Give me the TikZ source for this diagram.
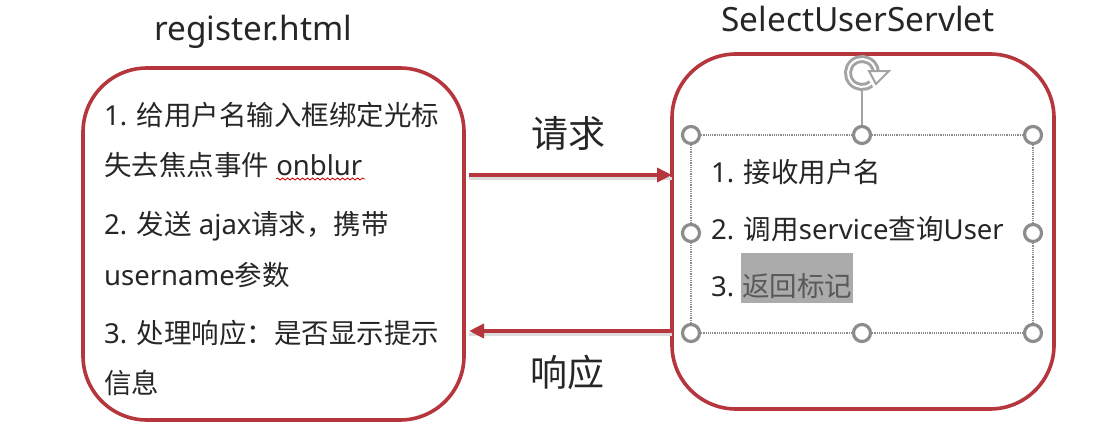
\documentclass[tikz,border=0pt]{standalone}
\usepackage{fontspec}
\setmainfont{Noto Sans}
\newfontfamily\zh{Noto Sans CJK SC}
\definecolor{box-red}{HTML}{B5373D}
\definecolor{handle-gray}{HTML}{8C8C8C}
\definecolor{text-dark}{HTML}{262626}
\usetikzlibrary{arrows.meta, decorations.pathmorphing}
\tikzset{
  servebox/.style={
    draw=box-red, fill=white, line width=3.6pt, rounded corners=64pt
  },
  item/.style={
    anchor=base west, inner sep=0pt, text=text-dark,
    font=\fontsize{27.5}{27.5}\selectfont
  },
  title/.style={
    anchor=base, inner sep=0pt, text=text-dark,
    font=\fontsize{33.4}{33.4}\selectfont
  },
  label/.style={
    anchor=base, inner sep=0pt, text=text-dark,
    font=\fontsize{37}{37}\selectfont\zh
  },
  connection/.style={
    draw=box-red, -{Triangle[length=15pt,width=14pt]}, line width=4pt
  },
  connshadow/.style={
    draw=black!14, line width=3pt
  },
  handle/.style={
    circle, draw=handle-gray, fill=white, line width=3.2pt,
    inner sep=0pt, minimum size=17pt
  },
  selframe/.style={
    draw=handle-gray, line width=1.2pt, densely dotted
  }
}

\begin{document}
\begin{tikzpicture}[x=1pt, y=-1pt]
        \useasboundingbox (0,0) rectangle (1102,444);

        % boxes
        \draw[servebox] (83,68) rectangle (464,420);
        \draw[servebox] (672,54) rectangle (1054,409);
        \coordinate (reqstart) at (469,175);
        \coordinate (reqend) at (672,175);
        \coordinate (respstart) at (672,331);
        \coordinate (respend) at (469,331);

        % titles
        \node[title] (page) at (253,41) {register.html};
        \node[title] (servlet) at (858,32) {SelectUserServlet};

        % left text
        \node[item] (l1) at (104,125) {1. {\zh 给用户名输入框绑定光标}};
        \node[item] (l2) at (104,175) {{\zh 失去焦点事件} onblur};
        \node[item] (l3) at (104,234) {2. {\zh 发送} ajax{\zh 请求，携带}};
        \node[item] (l4) at (104,285) {username{\zh 参数}};
        \node[item] (l5) at (104,343) {3. {\zh 处理响应：是否显示提示}};
        \node[item] (l6) at (104,393) {{\zh 信息}};
        \draw[red!80!black, line width=.8pt, decorate,
          decoration={snake, amplitude=1pt, segment length=5pt}]
          (276,179) -- (365,179);

        % arrows
        \draw[connshadow] ([yshift=-3pt]reqstart) -- ([yshift=-3pt]reqend);
        \draw[connshadow] ([yshift=-3pt]respstart) -- ([yshift=-3pt]respend);
        \draw[connection] (reqstart) -- (reqend);
        \draw[connection] (respstart) -- (respend);
        \node[label] (req) at (568,147) {请求};
        \node[label] (resp) at (567,386) {响应};

        % selection frame
        \node[handle] (h1) at (691,135) {};
        \node[handle] (h2) at (862,135) {};
        \node[handle] (h3) at (1033,135) {};
        \node[handle] (h4) at (691,233) {};
        \node[handle] (h5) at (1033,233) {};
        \node[handle] (h6) at (691,333) {};
        \node[handle] (h7) at (862,333) {};
        \node[handle] (h8) at (1033,333) {};
        \draw[selframe] (h1) -- (h2);
        \draw[selframe] (h2) -- (h3);
        \draw[selframe] (h3) -- (h5);
        \draw[selframe] (h5) -- (h8);
        \draw[selframe] (h8) -- (h7);
        \draw[selframe] (h7) -- (h6);
        \draw[selframe] (h6) -- (h4);
        \draw[selframe] (h4) -- (h1);

        % rotate handle
        \coordinate (rot) at (862,73);
        \draw[handle-gray!80, line width=2pt] (h2) -- (862,91);
        \draw[handle-gray!80, line width=8pt] (rot) ++(50:14) arc[start angle=50, end angle=355, radius=14];
        \draw[white, line width=2pt] (rot) ++(50:14) arc[start angle=50, end angle=355, radius=14];
        \draw[handle-gray!80, line width=2pt, fill=white] (869,71) -- (889,71) -- (876,84) -- cycle;

        % right text
        \node[item] (r1) at (711,182) {1. {\zh 接收用户名}};
        \node[item] (r2) at (711,239) {2. {\zh 调用}service{\zh 查询}User};
        \node[item] (r3) at (711,296) {3.};
        \node[item, fill=black!33, text=black!65, text height=43pt, text depth=7pt,
          inner xsep=1pt] (r3b) at (741,296) {\zh 返回标记};
\end{tikzpicture}
\end{document}
